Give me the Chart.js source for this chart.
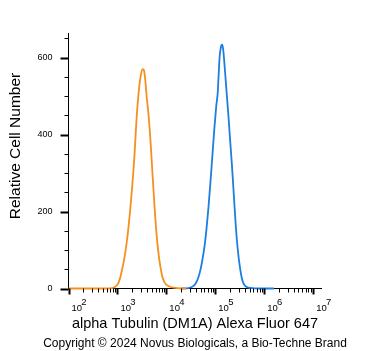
<!DOCTYPE html>
<html><head><meta charset="utf-8">
<style>html,body{margin:0;padding:0;background:#fff;}#wrap{width:371px;height:351px;}</style>
<script src="https://cdn.jsdelivr.net/npm/chart.js@4.4.1/dist/chart.umd.min.js"></script>
</head><body><div id="wrap"><canvas id="c" width="371" height="351"></canvas></div>
<script>
// x values are log10 of fluorescence intensity (decades)
const orangeLog   = [2.00, 2.80, 2.88, 2.95, 3.00, 3.05, 3.10, 3.15, 3.20, 3.25, 3.30, 3.35, 3.39, 3.43, 3.47, 3.51, 3.54, 3.57, 3.60, 3.64, 3.68, 3.72, 3.76, 3.80, 3.84, 3.88, 3.92, 3.97, 4.05, 4.15, 4.30, 4.40];
const orangeCount = [0,    0,    1,    4,    10,   25,   52,   85,   130,  190,  262,  350,  440,  505,  548,  570,  568,  540,  495,  445,  375,  290,  210,  140,  90,   55,   30,   14,   6,    2,    0,    0];
const blueLog   = [4.30, 4.45, 4.55, 4.62, 4.68, 4.73, 4.78, 4.82, 4.86, 4.90, 4.94, 4.98, 5.02, 5.05, 5.07, 5.09, 5.12, 5.14, 5.16, 5.18, 5.21, 5.24, 5.27, 5.30, 5.34, 5.38, 5.42, 5.46, 5.50, 5.54, 5.58, 5.64, 5.75, 5.90, 6.20];
const blueCount = [0,    1,    6,    18,   40,   70,   110,  155,  210,  275,  345,  415,  475,  510,  560,  605,  630,  634,  622,  595,  545,  495,  445,  390,  320,  240,  160,  100,  58,   28,   12,   4,    1,    0,    0];

const xDecades = [2, 3, 4, 5, 6, 7];
const xTickBase = '10';
const xTickExponents = ['2', '3', '4', '5', '6', '7'];
const xMin = 2, xMax = 7.17;
const yMajorTicks = [0, 200, 400, 600];
const yMinorStep = 50;
const yMin = 0, yMax = 664;

const xTitle = 'alpha Tubulin (DM1A) Alexa Fluor 647';
const yTitle = 'Relative Cell Number';
const copyrightText = 'Copyright \u00A9 2024 Novus Biologicals, a Bio-Techne Brand';

const ORANGE = '#f5901f';
const BLUE = '#1b7ee0';
const FONT = "'Liberation Sans', Arial, sans-serif";

function isMajor(v) { return Math.abs(v - Math.round(v)) < 1e-9; }

const axisMarks = {
  id: 'axisMarks',
  afterDraw(chart) {
    const ctx = chart.ctx;
    const xs = chart.scales.x, ys = chart.scales.y;
    const ca = chart.chartArea;
    ctx.save();
    ctx.strokeStyle = '#000';
    xs.ticks.forEach(t => {
      const px = Math.round(xs.getPixelForValue(t.value)) + 0.5;
      const maj = isMajor(t.value);
      ctx.lineWidth = maj ? 2 : 1;
      ctx.beginPath();
      ctx.moveTo(px, ca.bottom);
      ctx.lineTo(px, ca.bottom + (maj ? 6 : 4));
      ctx.stroke();
    });
    ys.ticks.forEach(t => {
      const py = Math.round(ys.getPixelForValue(t.value)) + 0.5;
      const maj = yMajorTicks.includes(t.value);
      ctx.lineWidth = maj ? 2 : 1;
      ctx.beginPath();
      ctx.moveTo(ca.left, py);
      ctx.lineTo(ca.left - (maj ? 8 : 4), py);
      ctx.stroke();
    });
    ctx.fillStyle = '#000';
    ctx.textAlign = 'center';
    ctx.textBaseline = 'middle';
    // copyright line
    ctx.font = '12px ' + FONT;
    ctx.fillText(copyrightText, 195, 344);
    // y axis title
    ctx.font = '15.5px ' + FONT;
    ctx.translate(16, 146);
    ctx.rotate(-Math.PI / 2);
    ctx.fillText(yTitle, 0, 0);
    ctx.restore();
  }
};

new Chart(document.getElementById('c'), {
  type: 'line',
  data: {
    datasets: [
      { label: 'orange', data: orangeLog.map((x, i) => ({ x, y: orangeCount[i] })), borderColor: ORANGE, borderWidth: 1.8, pointRadius: 0, cubicInterpolationMode: 'monotone', fill: false, clip: false },
      { label: 'blue', data: blueLog.map((x, i) => ({ x, y: blueCount[i] })), borderColor: BLUE, borderWidth: 1.8, pointRadius: 0, cubicInterpolationMode: 'monotone', fill: false, clip: false }
    ]
  },
  options: {
    responsive: false,
    animation: false,
    devicePixelRatio: 1,
    layout: { padding: { top: 33, right: 49.5, left: 0, bottom: 17.2 } },
    plugins: {
      legend: { display: false },
      tooltip: { enabled: false },
      title: { display: false }
    },
    scales: {
      x: {
        type: 'linear', min: xMin, max: xMax,
        afterBuildTicks(s) {
          const ticks = [];
          xDecades.forEach(d => {
            ticks.push({ value: d });
            for (let k = 2; k <= 9; k++) {
              const v = d + Math.log10(k);
              if (v <= xMax) ticks.push({ value: v });
            }
          });
          s.ticks = ticks;
        },
        afterFit(s) { s.height = 45.3; },
        grid: { display: false, drawTicks: true, tickLength: 6 },
        border: { display: true, color: '#000', width: 1 },
        ticks: {
          autoSkip: false, maxRotation: 0, minRotation: 0, align: 'start', labelOffset: 3, padding: 5,
          color: '#000', font: { family: FONT, size: 9.5, lineHeight: 0.62 },
          callback(v) {
            if (!isMajor(v)) return '';
            const i = xDecades.indexOf(Math.round(v));
            return ['   \u2009' + xTickExponents[i], xTickBase];
          }
        },
        title: { display: true, text: xTitle, color: '#000', font: { family: FONT, size: 14.5, lineHeight: 1 }, padding: { top: 0, bottom: 3 } }
      },
      y: {
        type: 'linear', min: yMin, max: yMax,
        afterBuildTicks(s) {
          const ticks = [];
          for (let v = yMin; v <= yMax; v += yMinorStep) ticks.push({ value: v });
          s.ticks = ticks;
        },
        afterFit(s) { s.width = 68.5; },
        grid: { display: false, drawTicks: true, tickLength: 8 },
        border: { display: true, color: '#000', width: 1 },
        ticks: {
          autoSkip: false, padding: 8, color: '#000', font: { family: FONT, size: 9 },
          callback(v) { return yMajorTicks.includes(v) ? String(v) : ''; }
        }
      }
    }
  },
  plugins: [axisMarks]
});
</script>
</body></html>
